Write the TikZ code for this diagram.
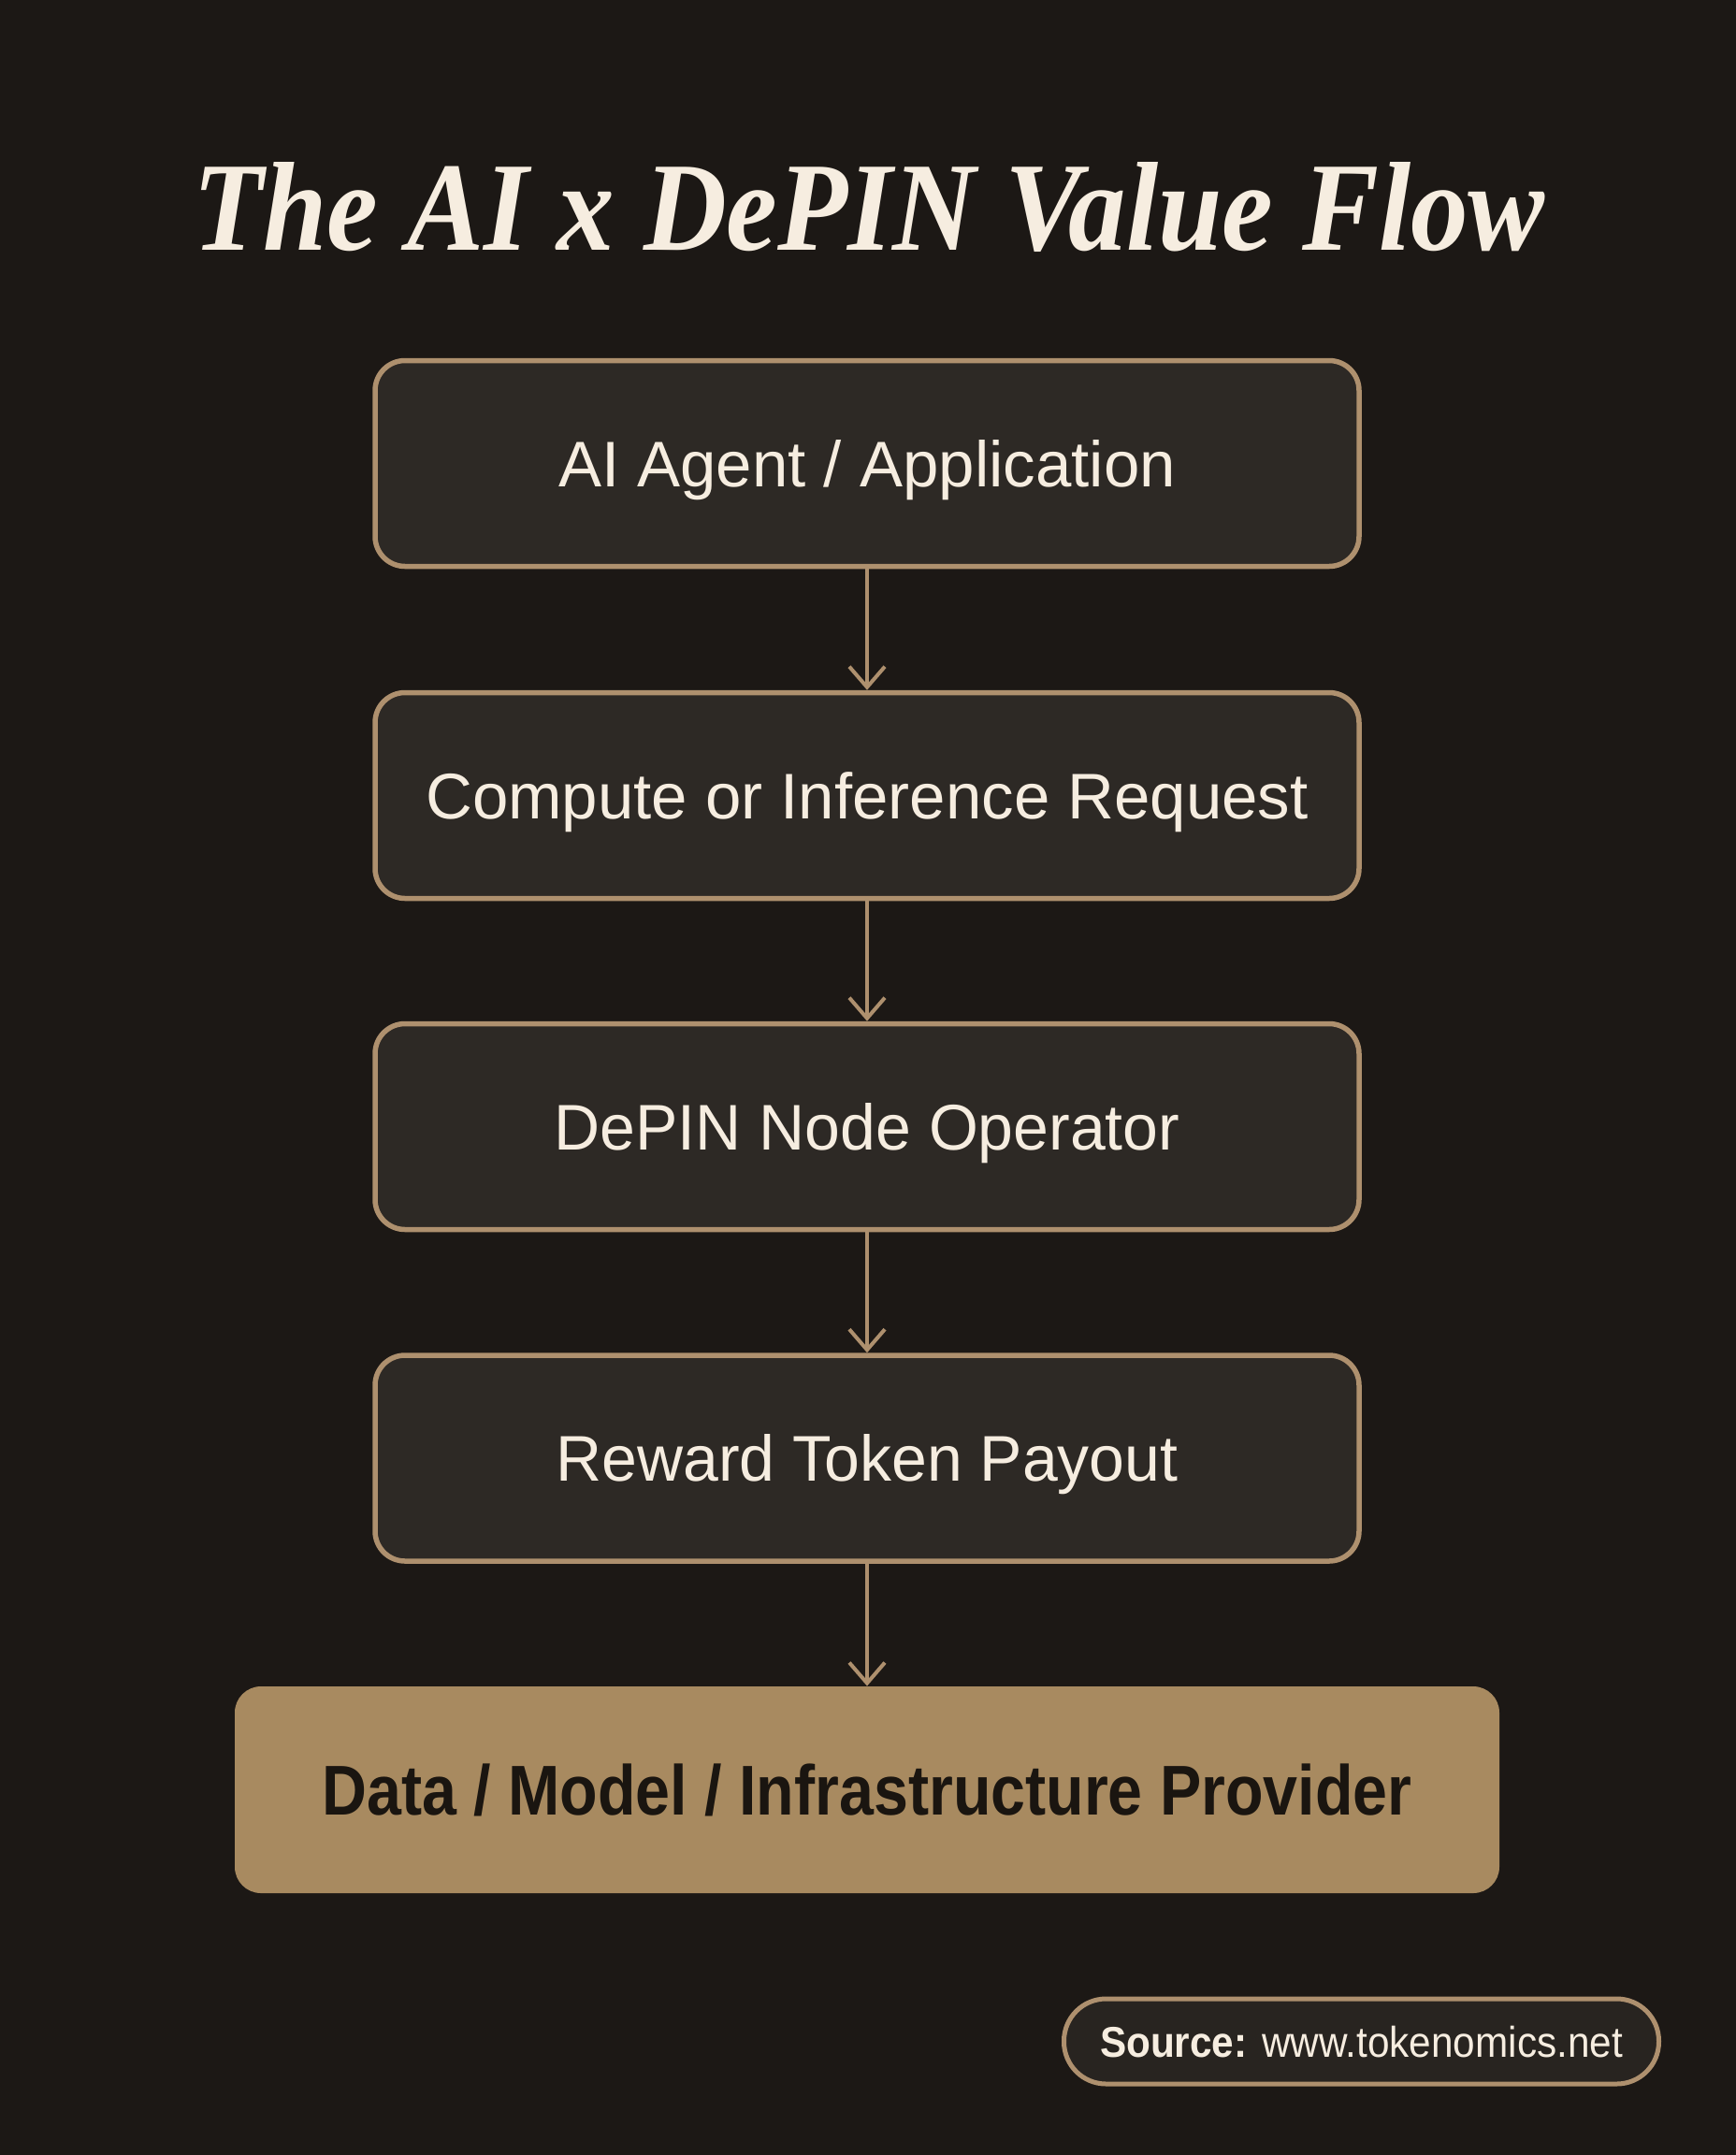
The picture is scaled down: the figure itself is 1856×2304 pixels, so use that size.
\documentclass[tikz,border=0pt]{standalone}
\usepackage{fontspec}
\setmainfont{Liberation Sans}
\newfontfamily\titlefont{Liberation Serif}
\usetikzlibrary{arrows.meta}
\definecolor{bg}{RGB}{28,24,21}
\definecolor{boxfill}{RGB}{45,41,37}
\definecolor{edge}{RGB}{174,144,110}
\definecolor{cream}{RGB}{246,237,224}
\definecolor{gold}{RGB}{168,138,96}
\definecolor{darktext}{RGB}{26,21,16}
\definecolor{pillfill}{RGB}{40,36,32}
\tikzset{
  flowbox/.style={draw=edge, line width=2.75pt, fill=boxfill, rounded corners=16pt,
    minimum width=526pt, minimum height=110pt, inner sep=0pt, text=cream,
    font=\fontsize{34.5}{40}\selectfont, text height=24.7pt, text depth=0pt},
  goalbox/.style={fill=gold, rounded corners=14pt,
    minimum width=676pt, minimum height=110.5pt, inner sep=0pt, text=darktext,
    font=\bfseries\fontsize{37.7}{44}\selectfont, text height=27pt, text depth=0pt},
  pill/.style={draw=edge, line width=2.5pt, fill=pillfill, rounded corners=22.5pt,
    minimum width=318pt, minimum height=45.5pt, inner sep=0pt, text=cream,
    font=\fontsize{23}{28}\selectfont, text height=16.5pt, text depth=0pt},
  flowarrow/.style={draw=edge, line width=2pt,
    -{Straight Barb[length=11pt,width=19pt,line width=2pt]}},
}
\begin{document}
\begin{tikzpicture}[x=0.5pt,y=-0.5pt]
\fill[bg] (0,0) rectangle (1856,2304);
\useasboundingbox (0,0) rectangle (1856,2304);

\node[anchor=base, text=cream, inner sep=0pt] (title) at (929,267)
  {\resizebox{723pt}{47pt}{\titlefont\bfseries\itshape\fontsize{72}{80}\selectfont The AI x DePIN Value Flow}};

\node[flowbox] (agent) at (927,495.5) {AI Agent / Application};
\node[flowbox] (request) at (927,850.5) {Compute or Inference Request};
\node[flowbox] (operator) at (927,1204.5) {\scalebox{0.985}[1]{DePIN Node Operator}};
\node[flowbox] (payout) at (927,1559) {\scalebox{0.985}[1]{Reward Token Payout}};
\node[goalbox] (provider) at (927,1913.5) {\scalebox{0.88}[1]{Data / Model / Infrastructure Provider}};

\draw[flowarrow] (agent.south) -- (request.north);
\draw[flowarrow] (request.south) -- (operator.north);
\draw[flowarrow] (operator.south) -- (payout.north);
\draw[flowarrow] (payout.south) -- (provider.north);

\node[pill] (source) at (1455.5,2182.5) {\scalebox{0.92}[1]{\textbf{Source:} www.tokenomics.net}};
\end{tikzpicture}
\end{document}
